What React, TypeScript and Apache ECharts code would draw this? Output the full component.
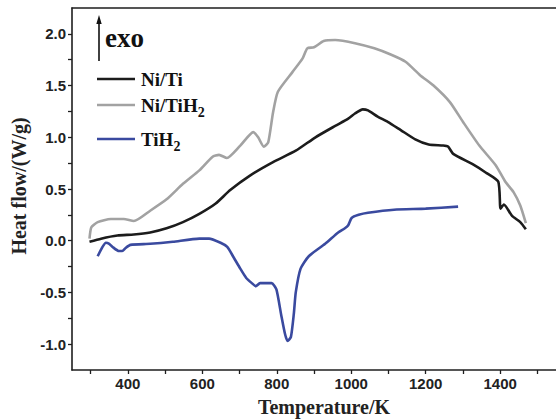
import React, { useEffect, useRef } from "react";
import * as echarts from "echarts";

// DSC traces: [temperature (K), heat flow (W/g)]
const niTi: [number, number][] = [
  [297, -0.01], [328, 0.02], [372, 0.05], [416, 0.06], [460, 0.08], [504, 0.12],
  [548, 0.18], [592, 0.26], [636, 0.36], [675, 0.49], [728, 0.63], [790, 0.76],
  [851, 0.87], [904, 1.0], [957, 1.11], [992, 1.18], [1010, 1.23], [1031, 1.27],
  [1045, 1.26], [1071, 1.2], [1098, 1.15], [1133, 1.07], [1172, 0.98], [1208, 0.93],
  [1247, 0.92], [1260, 0.91], [1274, 0.84], [1326, 0.74], [1361, 0.66], [1395, 0.57],
  [1401, 0.31], [1410, 0.35], [1432, 0.24], [1454, 0.18], [1469, 0.11],
];

const niTiH2: [number, number][] = [
  [297, 0.02], [302, 0.13], [319, 0.18], [354, 0.21], [389, 0.21], [416, 0.19],
  [460, 0.29], [504, 0.4], [548, 0.55], [592, 0.68], [627, 0.81], [645, 0.83],
  [666, 0.8], [702, 0.92], [737, 1.05], [750, 1.0], [765, 0.91], [777, 0.95],
  [790, 1.24], [803, 1.44], [842, 1.63], [869, 1.76], [882, 1.86], [900, 1.87],
  [926, 1.93], [957, 1.94], [1010, 1.91], [1062, 1.86], [1106, 1.8], [1146, 1.73],
  [1185, 1.6], [1221, 1.5], [1265, 1.34], [1300, 1.15], [1344, 0.92], [1388, 0.73],
  [1414, 0.57], [1436, 0.47], [1454, 0.34], [1469, 0.17],
];

const tiH2: [number, number][] = [
  [319, -0.15], [332, -0.06], [341, -0.02], [350, -0.03], [359, -0.06], [376, -0.1],
  [385, -0.1], [394, -0.07], [407, -0.04], [460, -0.03], [521, -0.01], [592, 0.02],
  [618, 0.02], [649, -0.02], [667, -0.06], [684, -0.16], [702, -0.27], [718, -0.36],
  [733, -0.41], [744, -0.44], [755, -0.41], [786, -0.41], [799, -0.47], [812, -0.72],
  [822, -0.9], [829, -0.97], [838, -0.93], [846, -0.7], [851, -0.5], [864, -0.27],
  [886, -0.15], [930, -0.03], [965, 0.08], [983, 0.12], [992, 0.15], [1001, 0.22],
  [1020, 0.25], [1045, 0.27], [1115, 0.3], [1200, 0.31], [1287, 0.33],
];

const xTickValues = [300, 400, 500, 600, 700, 800, 900, 1000, 1100, 1200, 1300, 1400, 1500];
const xLabelValues = [400, 600, 800, 1000, 1200, 1400];
const yTickValues = [-1, -0.75, -0.5, -0.25, 0, 0.25, 0.5, 0.75, 1, 1.25, 1.5, 1.75, 2];
const yLabelValues = [-1, -0.5, 0, 0.5, 1, 1.5, 2];

const seriesNames = ["Ni/Ti", "Ni/TiH", "TiH"];
const seriesColors = ["#1c1c1c", "#a2a2a2", "#3a4a9f"];

const SERIF = "'Liberation Serif', 'Times New Roman', serif";
const SANS = "'Liberation Sans', Arial, sans-serif";

function textWidth(text: string, font: string): number {
  const ctx = document.createElement("canvas").getContext("2d");
  if (!ctx) return text.length * 9;
  ctx.font = font;
  return ctx.measureText(text).width;
}

export default function App() {
  const ref = useRef<HTMLDivElement>(null);

  useEffect(() => {
    if (!ref.current) return;
    const chart = echarts.init(ref.current, undefined, { renderer: "svg" });

    const axisLine = { show: true, onZero: false, lineStyle: { color: "#1e1e1e", width: 1.6 } };
    const legendX = 97;
    const legendTextX = 141;
    const legendRows = [79, 105, 139];
    const legendFont = 19;
    const subFont = 14;
    const subs = [false, true, true];

    const legendGraphics: any[] = [];
    legendRows.forEach((y, i) => {
      legendGraphics.push({
        type: "line",
        shape: { x1: legendX, y1: y, x2: legendX + 38, y2: y },
        style: { stroke: seriesColors[i], lineWidth: 2.5 },
      });
      legendGraphics.push({
        type: "text",
        x: legendTextX,
        y: y,
        style: {
          text: seriesNames[i],
          font: `bold ${legendFont}px ${SERIF}`,
          fill: "#111",
          align: "left",
          verticalAlign: "middle",
        },
      });
      if (subs[i]) {
        const w = textWidth(seriesNames[i], `bold ${legendFont}px ${SERIF}`);
        legendGraphics.push({
          type: "text",
          x: legendTextX + w,
          y: y + 7,
          style: {
            text: "2",
            font: `bold ${subFont}px ${SERIF}`,
            fill: "#111",
            align: "left",
            verticalAlign: "middle",
          },
        });
      }
    });

    chart.setOption({
      animation: false,
      backgroundColor: "#ffffff",
      grid: { left: 72, right: -9, top: 8, bottom: 50 },
      xAxis: [
        {
          type: "value",
          min: 250,
          max: 1550,
          interval: 50,
          axisLine,
          axisTick: {
            show: true,
            inside: false,
            length: 4,
            customValues: xTickValues,
            lineStyle: { color: "#1e1e1e", width: 1.3 },
          },
          axisLabel: {
            customValues: xLabelValues,
            margin: 6,
            fontFamily: SANS,
            fontWeight: "bold",
            fontSize: 15,
            color: "#222",
            formatter: (v: number) => String(v),
          },
          splitLine: { show: false },
        },
        {
          type: "value",
          position: "top",
          min: 250,
          max: 1550,
          interval: 50,
          axisLine,
          axisTick: { show: false },
          axisLabel: { show: false },
          splitLine: { show: false },
        },
      ],
      yAxis: {
        type: "value",
        min: -1.25,
        max: 2.25,
        interval: 0.25,
        axisLine,
        axisTick: {
          show: true,
          inside: false,
          length: 4,
          customValues: yTickValues,
          lineStyle: { color: "#1e1e1e", width: 1.3 },
        },
        axisLabel: {
          customValues: yLabelValues,
          margin: 6,
          fontFamily: SANS,
          fontWeight: "bold",
          fontSize: 15,
          color: "#222",
          formatter: (v: number) => v.toFixed(1),
        },
        splitLine: { show: false },
      },
      series: [niTi, niTiH2, tiH2].map((data, i) => ({
        type: "line",
        name: seriesNames[i],
        data,
        showSymbol: false,
        smooth: 0.2,
        lineStyle: { color: seriesColors[i], width: 2.6 },
        z: 3 - i,
      })),
      graphic: [
        // exothermic direction marker
        {
          type: "line",
          shape: { x1: 99, y1: 61, x2: 99, y2: 22 },
          style: { stroke: "#111", lineWidth: 1.6 },
        },
        {
          type: "polygon",
          shape: { points: [[99, 15], [96.3, 24], [101.7, 24]] },
          style: { fill: "#111" },
        },
        {
          type: "text",
          x: 105,
          y: 38,
          style: {
            text: "exo",
            font: `bold 27px ${SERIF}`,
            fill: "#111",
            align: "left",
            verticalAlign: "middle",
          },
        },
        ...legendGraphics,
        {
          type: "text",
          x: 324,
          y: 407,
          style: {
            text: "Temperature/K",
            font: `bold 20px ${SERIF}`,
            fill: "#222",
            align: "center",
            verticalAlign: "middle",
          },
        },
        {
          type: "text",
          x: 19,
          y: 186,
          rotation: Math.PI / 2,
          style: {
            text: "Heat flow/(W/g)",
            font: `bold 20px ${SERIF}`,
            fill: "#222",
            align: "center",
            verticalAlign: "middle",
          },
        },
      ],
    });

    return () => chart.dispose();
  }, []);

  return (
    <div
      ref={ref}
      style={{ position: "fixed", left: 0, top: 0, width: 556, height: 420, background: "#fff" }}
    />
  );
}
